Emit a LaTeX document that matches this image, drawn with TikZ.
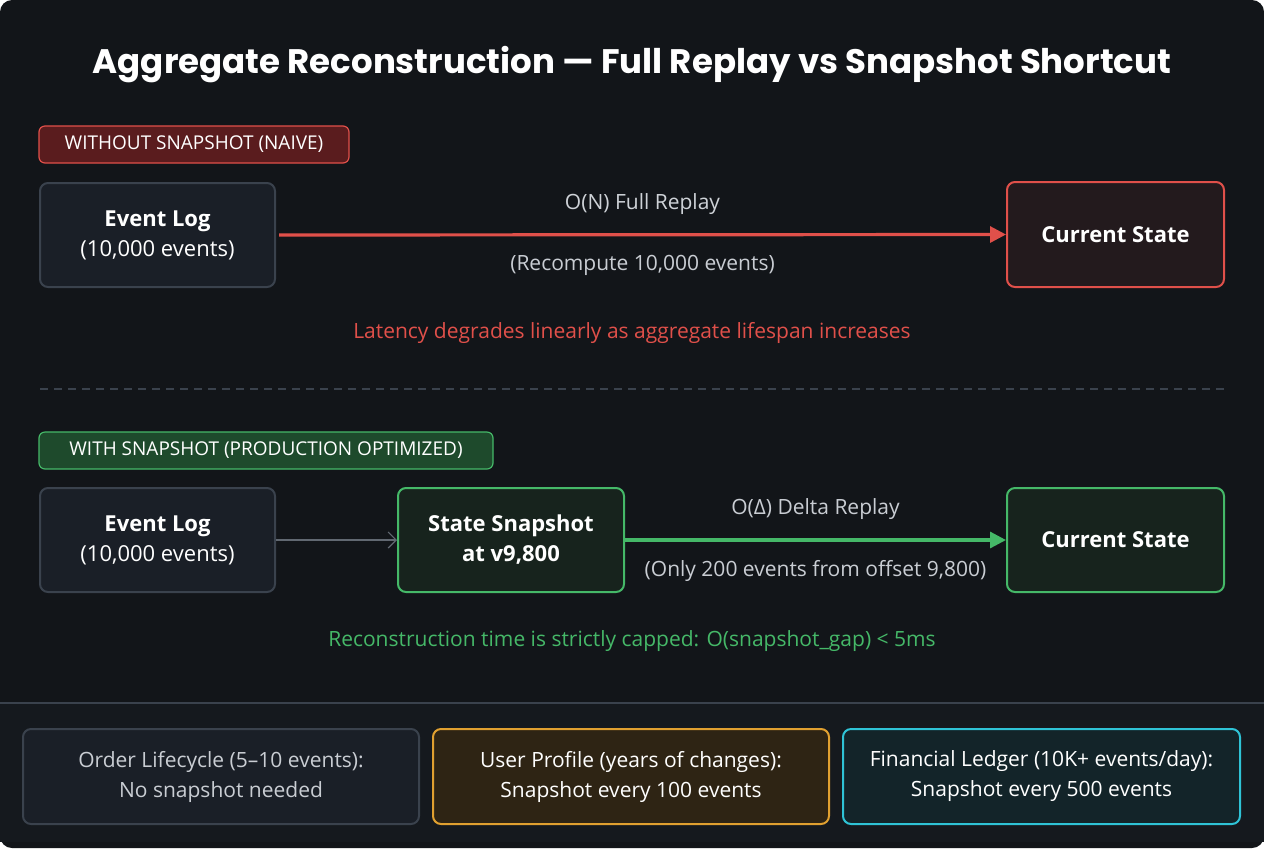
\documentclass[tikz,border=0pt]{standalone}
\usepackage{fontspec}
\setmainfont{Open Sans}
\newfontfamily\titlefont{Poppins}
\usetikzlibrary{positioning,arrows.meta}
\definecolor{bgdark}{HTML}{121519}
\definecolor{bgfoot}{HTML}{15191E}
\definecolor{boxfill}{HTML}{1A1F27}
\definecolor{boxline}{HTML}{3A424D}
\definecolor{txtgray}{HTML}{C9CDD3}
\definecolor{redline}{HTML}{E0504A}
\definecolor{redfill}{HTML}{231A1D}
\definecolor{redbadge}{HTML}{5A1C1E}
\definecolor{greenline}{HTML}{45B868}
\definecolor{greenfill}{HTML}{17231D}
\definecolor{greenbadge}{HTML}{1E4A2C}
\definecolor{orangeline}{HTML}{E0A030}
\definecolor{orangefill}{HTML}{2E2414}
\definecolor{cyanline}{HTML}{2FC3D6}
\definecolor{cyanfill}{HTML}{132429}
\tikzset{
  box/.style={draw=boxline,fill=boxfill,line width=1pt,rounded corners=4pt,
    align=center,text=white,font=\fontsize{11}{15}\selectfont,inner sep=0pt},
  badge/.style={rounded corners=3pt,line width=0.6pt,text=white,
    font=\fontsize{9.5}{11}\selectfont,inner sep=0pt,align=center},
  lbl/.style={text=txtgray,font=\fontsize{10.5}{12}\selectfont},
  foot/.style={box,font=\fontsize{10.5}{15}\selectfont,text=txtgray},
}
\begin{document}
\begin{tikzpicture}[x=0.5pt,y=-0.5pt]
    \useasboundingbox (0,0) rectangle (1264,848);
    \fill[bgdark,rounded corners=6pt] (0,0) rectangle (1264,848);
    \fill[bgfoot] (0,703) rectangle (1264,842);
    \draw[boxline,line width=0.6pt] (0,703) -- (1264,703);

    %title
    \node[text=white,font=\titlefont\fontsize{17}{20}\selectfont\bfseries] (title) at (632,65)
        {Aggregate Reconstruction — Full Replay vs Snapshot Shortcut};

    %naive
    \node[badge,draw=redline,fill=redbadge,minimum width=155pt,minimum height=18.5pt] (badge1) at (194,144.5)
        {WITHOUT SNAPSHOT (NAIVE)};
    \node[box,minimum width=117.5pt,minimum height=52pt] (log1) at (157.5,235)
        {\textbf{Event Log}\\(10,000 events)};
    \node[box,draw=redline,fill=redfill,minimum width=108.5pt,minimum height=52.5pt] (state1) at (1115.5,234.5)
        {\textbf{Current State}};
    \draw[-{Triangle[length=8pt,width=8pt]},redline,line width=1.6pt] (log1.east) ++(3,0) coordinate (r0) (r0) -- (state1.west)
        node[pos=0.5,above=6pt,lbl,text=txtgray!90!white] (full) {O(N) Full Replay}
        node[pos=0.5,below=6pt,lbl] (recomp) {(Recompute 10,000 events)};
    \node[text=redline,font=\fontsize{10.5}{12}\selectfont] (latency) at (632,333)
        {Latency degrades linearly as aggregate lifespan increases};

    \draw[boxline,dashed,line width=0.6pt,dash pattern=on 4pt off 3pt] (40,389) coordinate (d0) -- (1224,389) coordinate (d1);

    %snapshot
    \node[badge,draw=greenline,fill=greenbadge,minimum width=227pt,minimum height=18.5pt] (badge2) at (266,450.5)
        {WITH SNAPSHOT (PRODUCTION OPTIMIZED)};
    \node[box,minimum width=117.5pt,minimum height=52pt] (log2) at (157.5,540)
        {\textbf{Event Log}\\(10,000 events)};
    \node[box,draw=greenline,fill=greenfill,minimum width=113pt,minimum height=52pt] (snap) at (511,540)
        {\textbf{State Snapshot}\\\textbf{at v9,800}};
    \node[box,draw=greenline,fill=greenfill,minimum width=108.5pt,minimum height=52pt] (state2) at (1115.5,540)
        {\textbf{Current State}};
    \draw[-{Straight Barb[length=4pt]},boxline!80!white,line width=0.6pt] (log2) -- (snap);
    \draw[-{Triangle[length=8pt,width=8pt]},greenline,line width=1.6pt] (snap) -- (state2)
        node[pos=0.5,above=6pt,lbl] (delta) {O(Δ) Delta Replay}
        node[pos=0.5,below=6pt,lbl] (only) {(Only 200 events from offset 9,800)};
    \node[text=greenline,font=\fontsize{10.5}{12}\selectfont] (capped) at (632,641)
        {Reconstruction time is strictly capped: O(snapshot\_gap) < 5ms};

    %footer
    \node[foot,minimum width=198pt,minimum height=47.5pt] (order) at (221,776.5)
        {Order Lifecycle (5–10 events):\\No snapshot needed};
    \node[foot,draw=orangeline,fill=orangefill,text=white,minimum width=198pt,minimum height=47.5pt] (user) at (631,776.5)
        {User Profile (years of changes):\\Snapshot every 100 events};
    \node[foot,draw=cyanline,fill=cyanfill,text=white,minimum width=198.5pt,minimum height=47.5pt] (ledger) at (1041.5,776.5)
        {Financial Ledger (10K+ events/day):\\Snapshot every 500 events};
\end{tikzpicture}
\end{document}
